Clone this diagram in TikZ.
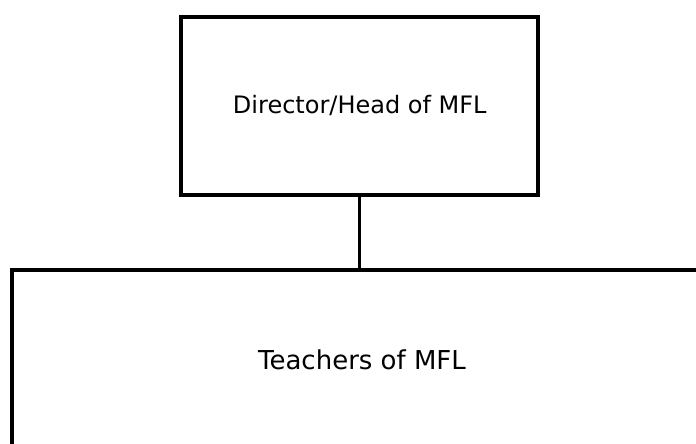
\documentclass[tikz,border=0pt]{standalone}
\usepackage{fontspec}
\setmainfont{DejaVu Sans}
\begin{document}
\begin{tikzpicture}[x=0.75pt,y=-0.75pt,
  orgbox/.style={draw=black, line width=3pt, fill=none, inner sep=0pt, outer sep=0pt},
  link/.style={draw=black, line width=2pt}]
\useasboundingbox (0,0) rectangle (696,443);
\clip (0,0) rectangle (696,443);
\node[orgbox, minimum width=267.4pt, minimum height=133.5pt, font=\fontsize{18}{20}\selectfont] (top) at (359.75,105.5) {Director/Head of MFL};
\node[orgbox, minimum width=525.2pt, minimum height=135pt, font=\fontsize{19.5}{22}\selectfont] (bottom) at (362,360) {Teachers of MFL};
\draw[link] (top.south -| 359.7,0) -- (bottom.north -| 359.7,0);
\end{tikzpicture}
\end{document}
